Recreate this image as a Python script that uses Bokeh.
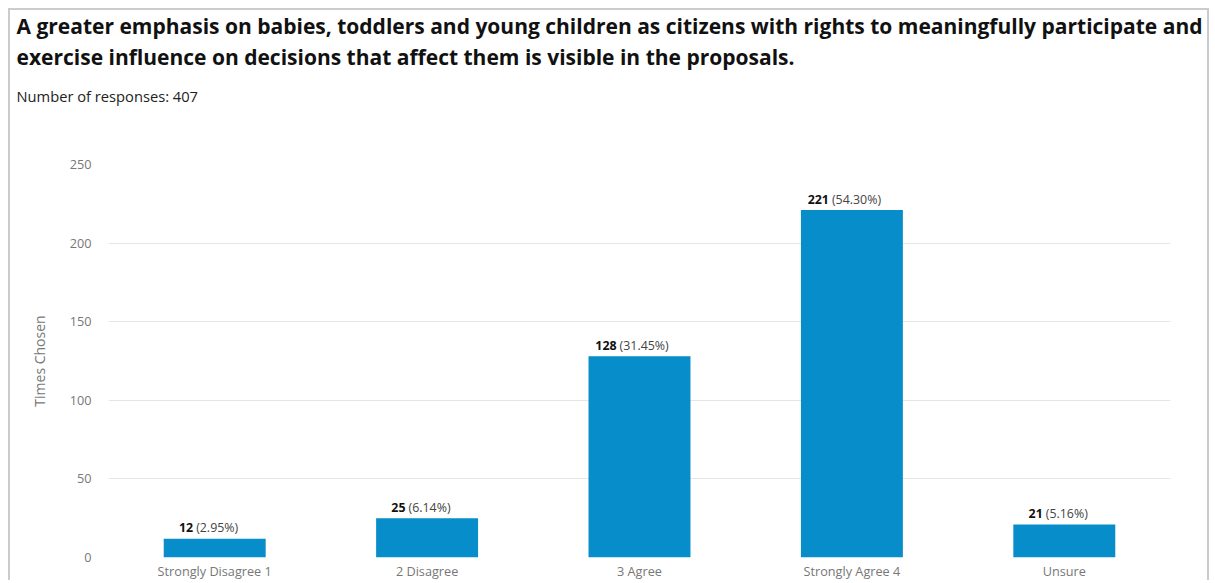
from bokeh.plotting import figure
from bokeh.models import Title, ColumnDataSource, FactorRange, Range1d, FixedTicker
from bokeh.core.properties import value
from bokeh.embed import file_html
from bokeh.resources import INLINE

categories = ["Strongly Disagree 1", "2 Disagree", "3 Agree", "Strongly Agree 4", "Unsure"]
counts = [12, 25, 128, 221, 21]
percents = ["2.95%", "6.14%", "31.45%", "54.30%", "5.16%"]
y_ticks = [0, 50, 100, 150, 200, 250]
title_line1 = ("A greater emphasis on babies, toddlers and young children as citizens "
               "with rights to meaningfully participate and")
title_line2 = "exercise influence on decisions that affect them is visible in the proposals."
subtitle = "Number of responses: 407"
y_label = "Times Chosen"

FONT = "Open Sans"
BAR = "#078dc9"
AX = 12.7   # axis label font size (px)
LBL = 12.4  # bar label font size (px)


def w_regular(s):
    t = 0.0
    for ch in s:
        if ch.isdigit():
            t += 0.572
        elif ch == ".":
            t += 0.266
        elif ch in "()":
            t += 0.296
        elif ch == "%":
            t += 0.815
        else:
            t += 0.3
    return t * LBL


cnt_txt = [str(c) for c in counts]
pct_txt = ["(%s)" % s for s in percents]
cnt_off, pct_off = [], []
for c, q in zip(cnt_txt, pct_txt):
    wc = 0.61 * LBL * len(c)
    wp = w_regular(q)
    gap = 3.0
    total = wc + gap + wp
    left = -0.61 * total
    split = left + wc
    cnt_off.append(split)
    pct_off.append(split + gap)

src = ColumnDataSource(dict(cat=categories, count=counts, cnt=cnt_txt, pct=pct_txt,
                            co=cnt_off, po=pct_off))

p = figure(x_range=FactorRange(*categories), y_range=Range1d(0, 250),
           width=1201, height=572, output_backend="svg", toolbar_location=None,
           min_border_left=98, min_border_right=41, min_border_top=0, min_border_bottom=20,
           styles={"margin-left": "8px", "margin-top": "8px",
                   "border-top": "2px solid #cccccc", "border-left": "2px solid #cccccc",
                   "border-right": "2px solid #cccccc"})
p.title.text = ""
p.outline_line_color = None
p.background_fill_color = "white"
p.border_fill_color = "white"

spacer = Title(text=" ", text_font=FONT, text_font_size="1px", standoff=43.6)
sub = Title(text=subtitle, text_font=FONT, text_font_size="14.7px", text_font_style="normal",
            text_color="#222222", align="left", offset=-92, standoff=24)
t2 = Title(text=title_line2, text_font=FONT, text_font_size="21px", text_font_style="bold",
           text_color="#111111", align="left", offset=-92, standoff=2)
t1 = Title(text=title_line1, text_font=FONT, text_font_size="21px", text_font_style="bold",
           text_color="#111111", align="left", offset=-92, standoff=-1)
p.add_layout(spacer, "above")
p.add_layout(sub, "above")
p.add_layout(t2, "above")
p.add_layout(t1, "above")

p.vbar(x="cat", top="count", width=0.48, source=src, fill_color=BAR, line_color=None)

p.text(x="cat", y="count", text="cnt", source=src, x_offset="co", y_offset=-11,
       text_align="right", text_baseline="alphabetic", text_font=value(FONT),
       text_font_size="%.1fpx" % LBL, text_font_style="bold", text_color="#111111")
p.text(x="cat", y="count", text="pct", source=src, x_offset="po", y_offset=-11,
       text_align="left", text_baseline="alphabetic", text_font=value(FONT),
       text_font_size="%.1fpx" % LBL, text_color="#444444")

p.xgrid.grid_line_color = None
p.ygrid.grid_line_color = "#e6e6e6"
p.ygrid.ticker = FixedTicker(ticks=y_ticks)

p.yaxis.ticker = FixedTicker(ticks=y_ticks)
p.yaxis.axis_label = y_label
p.yaxis.axis_label_text_font = FONT
p.yaxis.axis_label_text_font_size = "14px"
p.yaxis.axis_label_text_font_style = "normal"
p.yaxis.axis_label_text_color = "#777777"
p.yaxis.axis_label_standoff = 18
p.yaxis.major_label_standoff = 17
p.yaxis.major_label_text_font = FONT
p.yaxis.major_label_text_font_size = "%.1fpx" % AX
p.yaxis.major_label_text_color = "#777777"
p.yaxis.axis_line_color = None
p.yaxis.major_tick_line_color = None
p.yaxis.major_tick_out = 0
p.yaxis.major_tick_in = 0
p.yaxis.minor_tick_line_color = None
p.yaxis.minor_tick_out = 0

p.xaxis.major_label_standoff = 4
p.xaxis.major_label_text_font = FONT
p.xaxis.major_label_text_font_size = "%.1fpx" % AX
p.xaxis.major_label_text_color = "#777777"
p.xaxis.axis_line_color = None
p.xaxis.major_tick_line_color = None
p.xaxis.major_tick_out = 0
p.xaxis.major_tick_in = 0
p.xaxis.minor_tick_line_color = None
p.xaxis.minor_tick_out = 0

open("out.html", "w").write(file_html(p, INLINE))
